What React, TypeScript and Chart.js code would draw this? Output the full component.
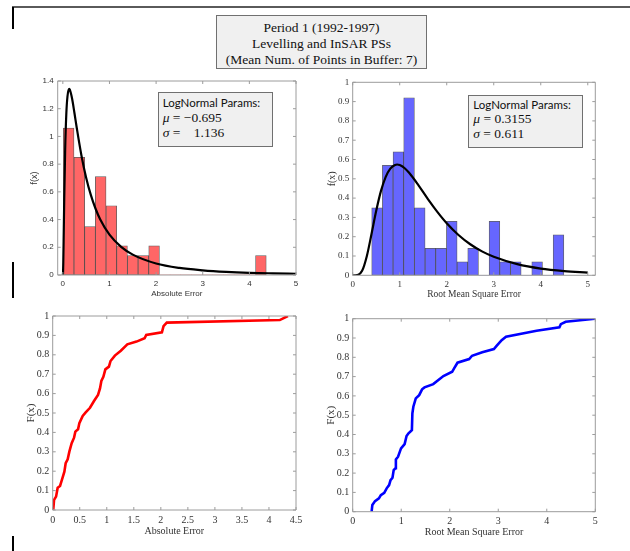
import React, { useEffect, useRef } from "react";
import { Chart, registerables } from "chart.js";
Chart.register(...registerables);

// ---------- data ----------
const absBinCenters = [0.125, 0.354, 0.583, 0.812, 1.041, 1.27, 1.499, 1.728, 1.957, 2.186, 2.415, 2.644, 2.873, 3.102, 3.331, 3.56, 3.789, 4.018, 4.247];
const absDensity = [1.06, 0.85, 0.35, 0.71, 0.5, 0.21, 0.14, 0.14, 0.21, 0, 0, 0, 0, 0, 0, 0, 0, 0, 0.14];

const rmsBinCenters = [0.518, 0.745, 0.972, 1.199, 1.426, 1.653, 1.88, 2.107, 2.334, 2.561, 2.788, 3.015, 3.242, 3.469, 3.696, 3.923, 4.15, 4.377];
const rmsDensity = [0.35, 0.57, 0.64, 0.92, 0.35, 0.14, 0.14, 0.28, 0.07, 0.14, 0, 0.28, 0.07, 0.07, 0, 0.07, 0, 0.21];

const absPdfX = [0, 0.005, 0.01, 0.02, 0.03, 0.05, 0.075, 0.1, 0.137, 0.15, 0.2, 0.25, 0.3, 0.4, 0.5, 0.6, 0.7, 0.8, 1.0, 1.25, 1.5, 2, 2.5, 3, 3.5, 4, 4.5, 5];
const absPdfY = [0, 0.019, 0.094, 0.318, 0.547, 0.903, 1.165, 1.29, 1.343, 1.337, 1.27, 1.167, 1.059, 0.861, 0.702, 0.578, 0.48, 0.403, 0.291, 0.203, 0.147, 0.083, 0.051, 0.034, 0.023, 0.016, 0.012, 0.009];

const rmsPdfX = [0, 0.05, 0.1, 0.2, 0.3, 0.4, 0.5, 0.6, 0.7, 0.8, 0.9, 0.944, 1.0, 1.1, 1.2, 1.4, 1.6, 1.8, 2.0, 2.25, 2.5, 2.75, 3.0, 3.5, 4.0, 4.5, 5.0];
const rmsPdfY = [0, 0, 0.0007, 0.023, 0.099, 0.214, 0.334, 0.436, 0.509, 0.553, 0.572, 0.574, 0.571, 0.556, 0.531, 0.466, 0.395, 0.329, 0.27, 0.209, 0.161, 0.124, 0.096, 0.058, 0.035, 0.022, 0.014];

const absCdfX = [0.01, 0.025, 0.062, 0.092, 0.136, 0.173, 0.216, 0.24, 0.277, 0.308, 0.351, 0.395, 0.419, 0.469, 0.493, 0.555, 0.61, 0.69, 0.764, 0.838, 0.875, 0.9, 0.937, 0.974, 1.04, 1.07, 1.15, 1.26, 1.38, 1.55, 1.7, 1.73, 2.02, 2.05, 2.11, 4.2, 4.35];
const absCdfY = [0, 0.052, 0.069, 0.115, 0.124, 0.158, 0.198, 0.241, 0.261, 0.301, 0.344, 0.373, 0.404, 0.416, 0.447, 0.485, 0.503, 0.527, 0.562, 0.593, 0.627, 0.665, 0.687, 0.725, 0.739, 0.768, 0.796, 0.821, 0.854, 0.868, 0.885, 0.902, 0.916, 0.948, 0.966, 0.979, 1.0];

const rmsCdfX = [0.39, 0.405, 0.46, 0.54, 0.58, 0.65, 0.7, 0.75, 0.78, 0.82, 0.845, 0.88, 0.89, 0.935, 0.996, 1.07, 1.11, 1.15, 1.22, 1.23, 1.25, 1.3, 1.37, 1.43, 1.48, 1.66, 1.87, 2.05, 2.09, 2.16, 2.4, 2.46, 2.67, 2.91, 2.97, 3.07, 3.16, 3.79, 4.26, 4.29, 4.39, 4.99];
const rmsCdfY = [0, 0.035, 0.055, 0.069, 0.086, 0.098, 0.121, 0.138, 0.164, 0.176, 0.216, 0.225, 0.271, 0.285, 0.328, 0.35, 0.392, 0.406, 0.423, 0.51, 0.544, 0.587, 0.604, 0.634, 0.644, 0.661, 0.703, 0.725, 0.743, 0.772, 0.791, 0.808, 0.826, 0.843, 0.86, 0.889, 0.907, 0.938, 0.955, 0.972, 0.984, 1.0];

const absHistXTicks = [0, 1, 2, 3, 4, 5];
const absHistYTicks = [0, 0.2, 0.4, 0.6, 0.8, 1, 1.2, 1.4];
const rmsHistXTicks = [0, 1, 2, 3, 4, 5];
const rmsHistYTicks = [0, 0.1, 0.2, 0.3, 0.4, 0.5, 0.6, 0.7, 0.8, 0.9, 1];
const absCdfXTicks = [0, 0.5, 1, 1.5, 2, 2.5, 3, 3.5, 4, 4.5];
const rmsCdfXTicks = [0, 1, 2, 3, 4, 5];
const cdfYTicks = [0, 0.1, 0.2, 0.3, 0.4, 0.5, 0.6, 0.7, 0.8, 0.9, 1];

const titleLines = ["Period 1 (1992-1997)", "Levelling and InSAR PSs", "(Mean Num. of Points in Buffer: 7)"];

// ---------- helpers ----------
const SANS = "'Liberation Sans', Arial, sans-serif";
const SERIF = "'Liberation Serif', 'Times New Roman', serif";
const TXT = "#333333";

const fmt = (v: number) => String(Number(Number(v).toFixed(2)));
const pts = (xs: number[], ys: number[]) => xs.map((x, i) => ({ x, y: ys[i] }));

const matlabBox = {
  id: "matlabBox",
  afterDatasetsDraw(chart: any) {
    const { ctx, chartArea: a } = chart;
    const xs = chart.scales.x;
    const ys = chart.scales.y;
    const len = 3;
    ctx.save();
    ctx.strokeStyle = "#9c9c9c";
    ctx.lineWidth = 1;
    ctx.beginPath();
    ctx.rect(a.left, a.top, a.right - a.left, a.bottom - a.top);
    xs.ticks.forEach((t: any) => {
      const p = xs.getPixelForValue(t.value);
      ctx.moveTo(p, a.bottom);
      ctx.lineTo(p, a.bottom - len);
      ctx.moveTo(p, a.top);
      ctx.lineTo(p, a.top + len);
    });
    ys.ticks.forEach((t: any) => {
      const p = ys.getPixelForValue(t.value);
      ctx.moveTo(a.left, p);
      ctx.lineTo(a.left + len, p);
      ctx.moveTo(a.right, p);
      ctx.lineTo(a.right - len, p);
    });
    ctx.stroke();
    ctx.restore();
  },
};

type AxisSpec = {
  min: number; max: number; ticks: number[]; title: string;
  font: string; tickSize: number; titleSize: number; pad: number; size: number;
};

function scaleOpts(ax: AxisSpec, horizontal: boolean) {
  return {
    type: "linear",
    min: ax.min,
    max: ax.max,
    offset: false,
    grid: { display: false, drawTicks: false },
    border: { display: false },
    afterBuildTicks: (s: any) => {
      s.ticks = ax.ticks.map((v) => ({ value: v }));
    },
    afterFit: (s: any) => {
      if (horizontal) s.height = ax.size; else s.width = ax.size;
      s.paddingLeft = 0; s.paddingRight = 0; s.paddingTop = 0; s.paddingBottom = 0;
    },
    ticks: {
      autoSkip: false, maxRotation: 0, minRotation: 0,
      padding: ax.pad, color: TXT,
      font: { family: ax.font, size: ax.tickSize },
      callback: (v: any) => fmt(v),
    },
    title: {
      display: true, text: ax.title, color: TXT, padding: 0,
      font: { family: ax.font, size: ax.titleSize, lineHeight: 1.2 },
    },
  };
}

function ChartPanel(props: { left: number; top: number; width: number; height: number; make: () => any }) {
  const ref = useRef<HTMLCanvasElement | null>(null);
  useEffect(() => {
    if (!ref.current) return;
    const chart = new Chart(ref.current, props.make());
    return () => chart.destroy();
  }, []);
  return (
    <canvas
      ref={ref}
      width={props.width}
      height={props.height}
      style={{ position: "absolute", left: props.left, top: props.top, width: props.width, height: props.height }}
    />
  );
}

function histConfig(o: {
  centers: number[]; dens: number[]; pdfX: number[]; pdfY: number[];
  fill: string; x: AxisSpec; y: AxisSpec; padTop: number; padRight: number;
}) {
  return {
    type: "bar",
    data: {
      datasets: [
        {
          type: "line",
          data: pts(o.pdfX, o.pdfY),
          borderColor: "#000000",
          borderWidth: 2.2,
          pointRadius: 0,
          cubicInterpolationMode: "monotone",
          fill: false,
          order: 0,
        },
        {
          type: "bar",
          data: pts(o.centers, o.dens),
          backgroundColor: o.fill,
          borderColor: "rgba(40,40,40,0.75)",
          borderWidth: (c: any) => (c.raw && c.raw.y > 0 ? 0.8 : 0),
          borderSkipped: false,
          barPercentage: 1,
          categoryPercentage: 1,
          order: 1,
        },
      ],
    },
    options: {
      responsive: false,
      animation: false,
      devicePixelRatio: 1,
      layout: { padding: { left: 0, top: o.padTop, right: o.padRight, bottom: 0 } },
      plugins: { legend: { display: false }, tooltip: { enabled: false } },
      scales: { x: scaleOpts(o.x, true), y: scaleOpts(o.y, false) },
    },
    plugins: [matlabBox],
  };
}

function cdfConfig(o: { xs: number[]; ys: number[]; color: string; x: AxisSpec; y: AxisSpec; padTop: number; padRight: number }) {
  return {
    type: "line",
    data: {
      datasets: [
        {
          data: pts(o.xs, o.ys),
          borderColor: o.color,
          borderWidth: 2.6,
          pointRadius: 0,
          tension: 0,
          fill: false,
        },
      ],
    },
    options: {
      responsive: false,
      animation: false,
      devicePixelRatio: 1,
      layout: { padding: { left: 0, top: o.padTop, right: o.padRight, bottom: 0 } },
      plugins: { legend: { display: false }, tooltip: { enabled: false } },
      scales: { x: scaleOpts(o.x, true), y: scaleOpts(o.y, false) },
    },
    plugins: [matlabBox],
  };
}

const boxStyle: React.CSSProperties = {
  position: "absolute",
  boxSizing: "border-box",
  background: "#f0f0f0",
  border: "1px solid #707070",
  color: "#111",
};

function ParamBox(props: { left: number; top: number; width: number; height: number; lh: number; padTop: number; padLeft: number; mu: string; sigma: string }) {
  const math: React.CSSProperties = { fontFamily: SERIF, fontSize: 13.5, whiteSpace: "pre" };
  return (
    <div style={{ ...boxStyle, left: props.left, top: props.top, width: props.width, height: props.height, paddingTop: props.padTop, paddingLeft: props.padLeft, lineHeight: props.lh + "px" }}>
      <div style={{ fontFamily: "Lato, 'Open Sans', sans-serif", fontSize: 11.5 }}>LogNormal Params:</div>
      <div style={math}><i>μ</i>{" = " + props.mu}</div>
      <div style={math}><i>σ</i>{" = " + props.sigma}</div>
    </div>
  );
}

export default function App() {
  return (
    <div style={{ position: "absolute", left: 0, top: 0, width: 630, height: 551, background: "#fff", overflow: "hidden" }}>
      {/* page artifacts */}
      <div style={{ position: "absolute", left: 12, top: 6, width: 618, height: 2, background: "#5a5a5a" }} />
      <div style={{ position: "absolute", left: 12, top: 7, width: 1.5, height: 22, background: "#000" }} />
      <div style={{ position: "absolute", left: 12, top: 262, width: 1.5, height: 36, background: "#000" }} />
      <div style={{ position: "absolute", left: 12, top: 536, width: 1.5, height: 15, background: "#000" }} />

      {/* title */}
      <div style={{ ...boxStyle, left: 216, top: 15, width: 211, height: 54, paddingTop: 3.5, textAlign: "center", fontFamily: SERIF, fontSize: 13.5, lineHeight: "16.3px" }}>
        {titleLines.map((t) => (
          <div key={t}>{t}</div>
        ))}
      </div>

      <ChartPanel left={29} top={75} width={281} height={224} make={() => histConfig({
        centers: absBinCenters, dens: absDensity, pdfX: absPdfX, pdfY: absPdfY,
        fill: "#ff6666", padTop: 6, padRight: 14,
        x: { min: -0.11, max: 5, ticks: absHistXTicks, title: "Absolute Error", font: SANS, tickSize: 8, titleSize: 8, pad: 4, size: 24 },
        y: { min: 0, max: 1.4, ticks: absHistYTicks, title: "f(x)", font: SANS, tickSize: 8, titleSize: 9, pad: 4, size: 28.7 },
      })} />

      <ChartPanel left={326} top={75} width={284} height={225} make={() => histConfig({
        centers: rmsBinCenters, dens: rmsDensity, pdfX: rmsPdfX, pdfY: rmsPdfY,
        fill: "#6666ff", padTop: 7.3, padRight: 14.7,
        x: { min: 0, max: 5.16, ticks: rmsHistXTicks, title: "Root Mean Square Error", font: SERIF, tickSize: 9, titleSize: 9.5, pad: 4, size: 24.7 },
        y: { min: 0, max: 1, ticks: rmsHistYTicks, title: "f(x)", font: SERIF, tickSize: 9, titleSize: 10, pad: 3.5, size: 26.7 },
      })} />

      <ChartPanel left={25} top={300} width={285} height={237} make={() => cdfConfig({
        xs: absCdfX, ys: absCdfY, color: "#ff0000", padTop: 16, padRight: 14,
        x: { min: 0, max: 4.5, ticks: absCdfXTicks, title: "Absolute Error", font: SERIF, tickSize: 10, titleSize: 10, pad: 4, size: 27 },
        y: { min: 0, max: 1, ticks: cdfYTicks, title: "F(x)", font: SERIF, tickSize: 10, titleSize: 11, pad: 3.5, size: 27.7 },
      })} />

      <ChartPanel left={325} top={300} width={285} height={238} make={() => cdfConfig({
        xs: rmsCdfX, ys: rmsCdfY, color: "#0000ff", padTop: 18.7, padRight: 14.7,
        x: { min: 0, max: 5, ticks: rmsCdfXTicks, title: "Root Mean Square Error", font: SERIF, tickSize: 10, titleSize: 10, pad: 4, size: 26.3 },
        y: { min: 0, max: 1, ticks: cdfYTicks, title: "F(x)", font: SERIF, tickSize: 10, titleSize: 11, pad: 3.5, size: 27.7 },
      })} />

      <ParamBox left={158} top={92} width={115} height={55} lh={15} padTop={2.3} padLeft={3.7} mu="−0.695" sigma="   1.136" />
      <ParamBox left={468} top={95} width={115} height={53} lh={14.5} padTop={1.5} padLeft={4.3} mu="0.3155" sigma="0.611" />
    </div>
  );
}
